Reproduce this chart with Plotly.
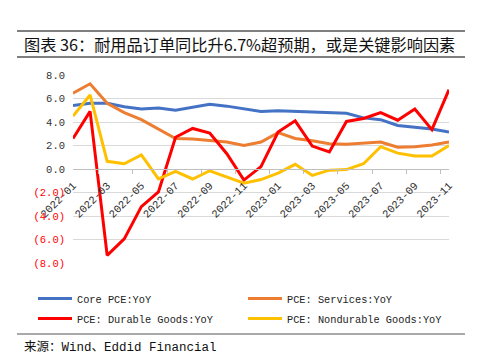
import plotly.graph_objects as go

months = ["2022-01", "2022-02", "2022-03", "2022-04", "2022-05", "2022-06",
          "2022-07", "2022-08", "2022-09", "2022-10", "2022-11", "2022-12",
          "2023-01", "2023-02", "2023-03", "2023-04", "2023-05", "2023-06",
          "2023-07", "2023-08", "2023-09", "2023-10", "2023-11"]

core_pce = [5.4, 5.6, 5.6, 5.3, 5.1, 5.2, 5.0, 5.25, 5.5, 5.35, 5.1, 4.9,
            4.95, 4.9, 4.85, 4.85, 4.75, 4.35, 4.2, 3.7, 3.55, 3.4, 3.15]
services = [6.45, 7.25, 5.6, 4.8, 4.2, 3.4, 2.6, 2.55, 2.45, 2.3, 2.0, 2.3,
            3.1, 2.6, 2.4, 2.15, 2.1, 2.2, 2.3, 1.85, 1.9, 2.05, 2.3]
durable = [2.6, 4.9, -7.35, -5.95, -3.2, -1.95, 2.7, 3.45, 3.05, 1.3, -0.95, 0.2,
           3.15, 4.1, 1.95, 1.45, 4.05, 4.3, 4.8, 4.15, 5.1, 3.35, 6.75]
nondurable = [4.5, 6.3, 0.65, 0.45, 1.2, -0.85, -0.2, -0.85, -0.15, -0.65, -1.2, -0.9,
              -0.35, 0.4, -0.55, -0.1, -0.05, 0.45, 1.9, 1.35, 1.1, 1.1, 2.0]

series_names = ["Core PCE:YoY", "PCE: Services:YoY",
                "PCE: Durable Goods:YoY", "PCE: Nondurable Goods:YoY"]
series_values = [core_pce, services, durable, nondurable]
colors = ["#4472C4", "#ED7D31", "#FF0000", "#FFC000"]
legend_ids = ["legend", "legend2", "legend", "legend2"]

y_tickvals = [8, 6, 4, 2, 0, -2, -4, -6, -8]
y_ticklabels = ["8.0", "6.0", "4.0", "2.0", "0.0", "(2.0)", "(4.0)", "(6.0)", "(8.0)"]
x_tickvals = months[::2]

title_text = "图表 36：耐用品订单同比升6.7%超预期，或是关键影响因素"
source_text = "来源：Wind、Eddid Financial"

mono = "Liberation Mono, Noto Sans CJK SC, monospace"
cjk = "Noto Sans CJK SC, Liberation Mono, sans-serif"


def px_x(X):
    return (X - 73) / 376.0


def px_y(Y):
    return (263 - Y) / 188.0


fig = go.Figure()
for name, vals, col, lg in zip(series_names, series_values, colors, legend_ids):
    fig.add_trace(go.Scatter(x=months, y=vals, mode="lines", name=name,
                             line=dict(color=col, width=3), legend=lg,
                             legendgroup=name))

ytext = [f'<span style="color:#FF0000">{t}</span>' if v < 0 else t
         for v, t in zip(y_tickvals, y_ticklabels)]

legend_common = dict(orientation="v", yanchor="top", xanchor="left",
                     font=dict(family=mono, size=10.3, color="#222222"),
                     bgcolor="rgba(0,0,0,0)", itemwidth=34, tracegroupgap=1)

fig.update_layout(
    width=478, height=363,
    margin=dict(l=73, r=29, t=75, b=100, autoexpand=False),
    paper_bgcolor="white", plot_bgcolor="white",
    font=dict(family=mono, size=10.5, color="#333333"),
    showlegend=True,
    legend=dict(x=px_x(33), y=px_y(284), **legend_common),
    legend2=dict(x=px_x(243), y=px_y(284), **legend_common),
    xaxis=dict(type="category", tickvals=x_tickvals, tickangle=-45,
               anchor="free", position=0.5, showgrid=False,
               showline=True, linecolor="#BFBFBF", linewidth=1,
               ticks="outside", ticklen=4, tickcolor="#BFBFBF",
               tickson="boundaries", automargin=False, ticklabelstandoff=5,
               tickfont=dict(family=mono, size=10.8, color="#333333")),
    yaxis=dict(range=[-8, 8], tickvals=y_tickvals, ticktext=ytext,
               showgrid=True, gridcolor="#D9D9D9", gridwidth=1,
               zeroline=True, zerolinecolor="#BFBFBF", zerolinewidth=1,
               showline=False, ticks="", ticklabelstandoff=7, automargin=False,
               tickfont=dict(family=mono, size=10.5, color="#333333")),
)

for Y, w in [(31, 1.5), (57, 1.5), (334, 1.2)]:
    fig.add_shape(type="line", xref="paper", yref="paper",
                  x0=px_x(17), x1=px_x(465), y0=px_y(Y), y1=px_y(Y),
                  line=dict(color="#555555", width=w))

fig.add_annotation(text=title_text, xref="paper", yref="paper",
                   x=px_x(22), y=px_y(44), xanchor="left", yanchor="middle",
                   showarrow=False, font=dict(family=cjk, size=16.2, color="#111111"))
fig.add_annotation(text=source_text, xref="paper", yref="paper",
                   x=px_x(22), y=px_y(347), xanchor="left", yanchor="middle",
                   showarrow=False, font=dict(family=mono, size=12.5, color="#111111"))

fig.write_html("out.html", config={"displayModeBar": False},
               post_script="document.body.style.margin='0';document.body.style.padding='0';")
